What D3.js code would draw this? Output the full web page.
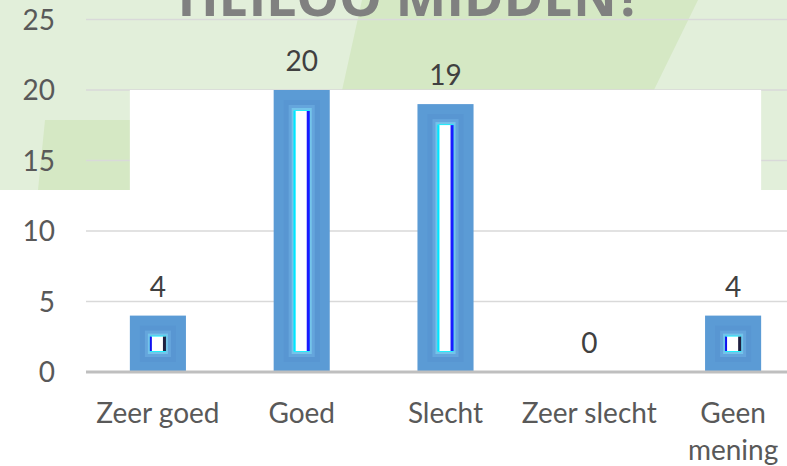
<!DOCTYPE html>
<html>
<head>
<meta charset="utf-8">
<script src="https://cdn.jsdelivr.net/npm/d3@7"></script>
<style>
  body { margin: 0; background: #ffffff; }
  svg { display: block; font-family: Lato, "Open Sans", sans-serif; }
</style>
</head>
<body>
<div id="chart"></div>
<script>
var titleText = "HEILOO MIDDEN?";
var categories = ["Zeer goed", "Goed", "Slecht", "Zeer slecht", "Geen mening"];
var values = [4, 20, 19, 0, 4];
var yTicks = [0, 5, 10, 15, 20, 25];

var width = 787,
    height = 466,
    greenBottom = 190,
    fontSize = '28px';

var svg = d3.select('#chart').append('svg')
    .attr('width', width)
    .attr('height', height);

var x = d3.scaleBand()
    .domain(categories)
    .range([86, 805])
    .paddingInner(0.61)
    .paddingOuter(0.305);

var y = d3.scaleLinear()
    .domain([0, 25])
    .range([372, 19.5]);

drawBackground();
drawGrid();
drawPlotPatch();
drawBars();
drawLabels();

function drawBackground()
{
	svg.append('rect')
		.attr('x', 0).attr('y', 0)
		.attr('width', width).attr('height', greenBottom)
		.style('fill', '#e2efda');

	// diagonal darker band behind the title
	svg.append('polygon')
		.attr('points', '362,0 698,0 605,' + greenBottom + ' 320,' + greenBottom)
		.style('fill', '#d5e8c4');

	// lower left darker block
	svg.append('polygon')
		.attr('points', '45,120 220,120 220,' + greenBottom + ' 38,' + greenBottom)
		.style('fill', '#d5e8c4');

	svg.append('text')
		.attr('x', 410)
		.attr('y', 16)
		.attr('text-anchor', 'middle')
		.attr('textLength', 465)
		.attr('lengthAdjust', 'spacing')
		.style('font-family', '"Open Sans", sans-serif')
		.style('font-weight', 'bold')
		.style('font-size', '54px')
		.style('fill', '#808080')
		.text(titleText);
}

function drawGrid()
{
	svg.selectAll('line.grid').data(yTicks.filter(function (d) { return d > 0; }))
		.enter().append('line')
		.attr('class', 'grid')
		.attr('x1', x.range()[0])
		.attr('x2', width)
		.attr('y1', function (d) { return y(d); })
		.attr('y2', function (d) { return y(d); })
		.style('stroke', '#d9d9d9')
		.style('stroke-width', 1.5);

	svg.selectAll('text.tick').data(yTicks)
		.enter().append('text')
		.attr('class', 'tick')
		.attr('x', 55)
		.attr('y', function (d) { return y(d) + 10; })
		.attr('text-anchor', 'end')
		.style('font-size', fontSize)
		.style('fill', '#595959')
		.text(function (d) { return d; });
}

function drawPlotPatch()
{
	// white patch from the first to the last bar, as in the original
	var left = x(categories[0]);
	var right = x(categories[categories.length - 1]) + x.bandwidth();
	var top = y(d3.max(values));
	svg.append('rect')
		.attr('x', left)
		.attr('y', top)
		.attr('width', right - left)
		.attr('height', greenBottom - top)
		.style('fill', '#ffffff');
}

function drawBars()
{
	var bw = x.bandwidth();

	svg.selectAll('g.bar').data(values)
		.enter().append('g')
		.attr('class', 'bar')
		.each(function (d, i) {
			if (d <= 0) return;
			var g = d3.select(this);
			var bx = x(categories[i]);
			var by = y(d);
			var bh = y(0) - y(d);
			// soft inner glow, from outside in
			var steps = [
				[0, '#5b9bd5'],
				[10, '#5896d2'],
				[15, '#65a5dc'],
				[18, '#74c4ea'],
				[20, '#22eefc'],
				[21, '#ffffff']
			];
			steps.forEach(function (s) {
				g.append('rect')
					.attr('x', bx + s[0])
					.attr('y', by + s[0])
					.attr('width', bw - s[0] * 2)
					.attr('height', Math.max(0, bh - s[0] * 2))
					.style('fill', s[1]);
			});
			var tall = bh > 100;
			g.append('rect')
				.attr('x', bx + 20).attr('y', by + 21)
				.attr('width', 2).attr('height', Math.max(0, bh - 42))
				.style('fill', tall ? '#00e5ff' : '#1010f0');
			g.append('rect')
				.attr('x', bx + bw - 23).attr('y', by + 21)
				.attr('width', 3).attr('height', Math.max(0, bh - 42))
				.style('fill', tall ? '#1a1aff' : '#202040');
		});
}

function drawLabels()
{
	// zero baseline
	svg.append('line')
		.attr('x1', x.range()[0])
		.attr('x2', width)
		.attr('y1', y(0))
		.attr('y2', y(0))
		.style('stroke', '#bfbfbf')
		.style('stroke-width', 3);

	svg.selectAll('text.value').data(values)
		.enter().append('text')
		.attr('class', 'value')
		.attr('x', function (d, i) { return x(categories[i]) + x.bandwidth() / 2; })
		.attr('y', function (d) { return y(d) - 19; })
		.attr('text-anchor', 'middle')
		.style('font-size', fontSize)
		.style('fill', '#404040')
		.text(function (d) { return d; });

	var cat = svg.selectAll('text.cat').data(categories)
		.enter().append('text')
		.attr('class', 'cat')
		.attr('x', function (d) { return x(d) + x.bandwidth() / 2; })
		.attr('y', 423)
		.attr('text-anchor', 'middle')
		.style('font-size', fontSize)
		.style('fill', '#595959');

	cat.each(function (d) {
		var t = d3.select(this);
		// the last label wraps onto two lines
		if (d === "Geen mening") {
			d.split(' ').forEach(function (w, k) {
				t.append('tspan')
					.attr('x', x(d) + x.bandwidth() / 2)
					.attr('dy', k === 0 ? 0 : 37)
					.text(w);
			});
		} else {
			t.text(d);
		}
	});
}
</script>
</body>
</html>
